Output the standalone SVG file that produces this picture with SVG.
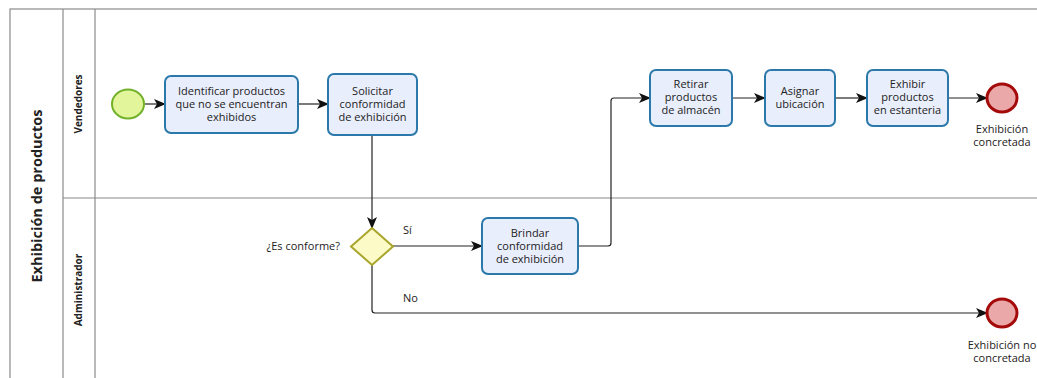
<svg xmlns="http://www.w3.org/2000/svg" width="1037" height="378" viewBox="0 0 1037 378">
  <style>
    .lane { fill: none; stroke: #8a8a8a; stroke-width: 1.2; }
    .task { fill: #e9eefc; stroke: #2b79ab; stroke-width: 2; }
    .start { fill: #e2f59a; stroke: #72b12a; stroke-width: 2; }
    .end { fill: #eaa8a8; stroke: #a50a0a; stroke-width: 3; }
    .gw { fill: #fcfac6; stroke: #a9a52a; stroke-width: 2; }
    .flow { fill: none; stroke: #222; stroke-width: 1.2; }
    text { font-family: "Open Sans", "DejaVu Sans", sans-serif; font-size: 11px; fill: #222; }
    .c { text-anchor: middle; }
    .hdr { font-weight: bold; font-size: 10px; }
    .pool { font-weight: bold; font-size: 14.5px; }
  </style>
  <defs>
    <marker id="arrow" viewBox="0 0 12 10" refX="11" refY="5" markerWidth="12" markerHeight="10" markerUnits="userSpaceOnUse" orient="auto">
      <path d="M0,0 L12,5 L0,10 L3,5 Z" fill="#111"/>
    </marker>
  </defs>

  <rect width="1037" height="378" fill="#fff"/>

  <!-- pool and lanes -->
  <g id="pool">
    <rect class="lane" x="10" y="9" width="1040" height="380"/>
    <line class="lane" x1="63" y1="9" x2="63" y2="389"/>
    <line class="lane" x1="95" y1="9" x2="95" y2="389"/>
    <line class="lane" x1="63" y1="198" x2="1050" y2="198"/>
    <text class="pool c" transform="translate(42,196) rotate(-90)">Exhibición de productos</text>
    <text class="hdr c" transform="translate(82,104) rotate(-90)">Vendedores</text>
    <text class="hdr c" transform="translate(82,290) rotate(-90)">Administrador</text>
  </g>

  <!-- connectors -->
  <g id="connectors">
    <line class="flow" x1="145" y1="104" x2="165" y2="104" marker-end="url(#arrow)"/>
    <line class="flow" x1="298" y1="104" x2="328" y2="104" marker-end="url(#arrow)"/>
    <line class="flow" x1="372" y1="135" x2="372" y2="228" marker-end="url(#arrow)"/>
    <line class="flow" x1="393" y1="246" x2="482" y2="246" marker-end="url(#arrow)"/>
    <path class="flow" d="M578,246 H608 Q611,246 611,243 V101 Q611,98 614,98 H650" marker-end="url(#arrow)"/>
    <line class="flow" x1="732" y1="98" x2="765" y2="98" marker-end="url(#arrow)"/>
    <line class="flow" x1="835" y1="98" x2="867" y2="98" marker-end="url(#arrow)"/>
    <line class="flow" x1="948" y1="98" x2="987" y2="98" marker-end="url(#arrow)"/>
    <path class="flow" d="M372,265 V310 Q372,313 375,313 H987" marker-end="url(#arrow)"/>
    <text x="403" y="234">Sí</text>
    <text x="403" y="302">No</text>
  </g>

  <!-- nodes -->
  <g id="start">
    <ellipse class="start" cx="128" cy="104" rx="16" ry="14.5"/>
  </g>
  <g id="identificar">
    <rect class="task" x="165" y="76" width="133" height="57" rx="6"/>
    <text class="c" x="231.5" y="95">Identificar productos</text>
    <text class="c" x="231.5" y="108">que no se encuentran</text>
    <text class="c" x="231.5" y="121">exhibidos</text>
  </g>
  <g id="solicitar">
    <rect class="task" x="328" y="74" width="89" height="61" rx="6"/>
    <text class="c" x="372.5" y="95">Solicitar</text>
    <text class="c" x="372.5" y="108">conformidad</text>
    <text class="c" x="372.5" y="121">de exhibición</text>
  </g>
  <g id="conforme">
    <polygon class="gw" points="372,228 393,246.5 372,265 351,246.5"/>
    <text x="340" y="250" text-anchor="end">¿Es conforme?</text>
  </g>
  <g id="brindar">
    <rect class="task" x="482" y="218" width="96" height="56" rx="6"/>
    <text class="c" x="530" y="237">Brindar</text>
    <text class="c" x="530" y="250">conformidad</text>
    <text class="c" x="530" y="263">de exhibición</text>
  </g>
  <g id="retirar">
    <rect class="task" x="650" y="70" width="82" height="56" rx="6"/>
    <text class="c" x="691" y="88">Retirar</text>
    <text class="c" x="691" y="101">productos</text>
    <text class="c" x="691" y="114">de almacén</text>
  </g>
  <g id="asignar">
    <rect class="task" x="765" y="70" width="70" height="56" rx="6"/>
    <text class="c" x="800" y="95">Asignar</text>
    <text class="c" x="800" y="108">ubicación</text>
  </g>
  <g id="exhibir">
    <rect class="task" x="867" y="70" width="81" height="56" rx="6"/>
    <text class="c" x="907.5" y="88">Exhibir</text>
    <text class="c" x="907.5" y="101">productos</text>
    <text class="c" x="907.5" y="114">en estanteria</text>
  </g>
  <g id="fin-concretada">
    <ellipse class="end" cx="1002" cy="98" rx="15" ry="14"/>
    <text class="c" x="1002" y="133">Exhibición</text>
    <text class="c" x="1002" y="146">concretada</text>
  </g>
  <g id="fin-no-concretada">
    <ellipse class="end" cx="1002" cy="313" rx="15" ry="14"/>
    <text class="c" x="1002" y="349">Exhibición no</text>
    <text class="c" x="1002" y="362">concretada</text>
  </g>
</svg>
